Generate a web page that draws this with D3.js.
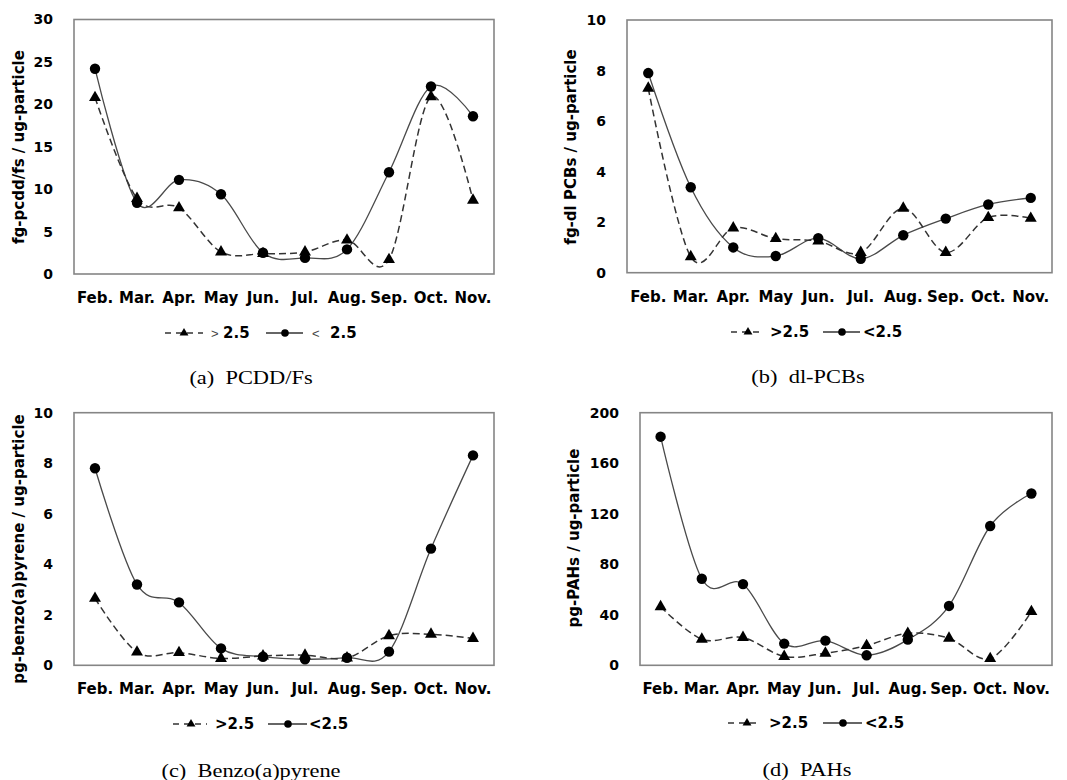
<!DOCTYPE html>
<html>
<head>
<meta charset="utf-8">
<script src="https://cdn.jsdelivr.net/npm/d3@7"></script>
<style>
  html, body { margin: 0; padding: 0; background: #fff; }
  svg { display: block; }
</style>
</head>
<body>
<svg id="chart" width="1067" height="780"></svg>
<script>
// ---------- data ----------
const months = ["Feb.", "Mar.", "Apr.", "May", "Jun.", "Jul.", "Aug.", "Sep.", "Oct.", "Nov."];

const pcddTicks = [0, 5, 10, 15, 20, 25, 30];
const pcddAbove = [20.8, 8.9, 7.8, 2.6, 2.4, 2.6, 4.0, 1.7, 20.9, 8.7];
const pcddBelow = [24.2, 8.4, 11.1, 9.4, 2.5, 1.9, 2.9, 12.0, 22.1, 18.6];

const pcbTicks = [0, 2, 4, 6, 8, 10];
const pcbAbove = [7.3, 0.63, 1.77, 1.35, 1.25, 0.8, 2.55, 0.8, 2.18, 2.15];
const pcbBelow = [7.9, 3.38, 1.0, 0.66, 1.37, 0.55, 1.48, 2.14, 2.7, 2.96];

const bapTicks = [0, 2, 4, 6, 8, 10];
const bapAbove = [2.65, 0.52, 0.5, 0.27, 0.37, 0.4, 0.29, 1.17, 1.23, 1.06];
const bapBelow = [7.8, 3.2, 2.49, 0.67, 0.34, 0.24, 0.3, 0.54, 4.62, 8.31];

const pahTicks = [0, 40, 80, 120, 160, 200];
const pahAbove = [46.4, 20.6, 22.0, 7.0, 9.6, 15.6, 25.3, 21.4, 5.3, 42.5];
const pahBelow = [181, 68.5, 64.3, 17.2, 19.5, 7.9, 20.3, 47, 110.3, 136];

const yTitles = ["fg-pcdd/fs / ug-particle", "fg-dl PCBs / ug-particle",
                 "pg-benzo(a)pyrene / ug-particle", "pg-PAHs / ug-particle"];
const captions = ["(a)\u00a0 PCDD/Fs", "(b)\u00a0 dl-PCBs", "(c)\u00a0 Benzo(a)pyrene", "(d)\u00a0 PAHs"];

// ---------- layout ----------
const panels = [
  { box: [74, 494, 19.5, 274], ymax: 30, ticks: pcddTicks, above: pcddAbove, below: pcddBelow,
    title: yTitles[0], tX: 19, tY: 147, cap: captions[0], capX: 251, capY: 377,
    leg: { y: 333, d0: 165, d1: 203, tri: 184, t1x: 211, s0: 266, s1: 303, dot: 285, t2x: 312, thin: true } },
  { box: [627, 1052, 20, 272.7], ymax: 10, ticks: pcbTicks, above: pcbAbove, below: pcbBelow,
    title: yTitles[1], tX: 571, tY: 147, cap: captions[1], capX: 808, capY: 376,
    leg: { y: 332, d0: 731, d1: 763, tri: 748, t1x: 770, s0: 823, s1: 860, dot: 842, t2x: 863, thin: false } },
  { box: [74, 494, 412.7, 665.3], ymax: 10, ticks: bapTicks, above: bapAbove, below: bapBelow,
    title: yTitles[2], tX: 19, tY: 549, cap: captions[2], capX: 251, capY: 770,
    leg: { y: 724, d0: 173, d1: 207, tri: 191, t1x: 215, s0: 268, s1: 307, dot: 288, t2x: 309, thin: false } },
  { box: [640, 1052, 412.7, 665.3], ymax: 200, ticks: pahTicks, above: pahAbove, below: pahBelow,
    title: yTitles[3], tX: 574, tY: 538, cap: captions[3], capX: 807, capY: 769,
    leg: { y: 723, d0: 728, d1: 761, tri: 747, t1x: 769, s0: 823, s1: 862, dot: 843, t2x: 865, thin: false } }
];

const svg = d3.select("#chart");
const boldFont = "'DejaVu Sans', sans-serif";
const triPath = s => d3.symbol().type(d3.symbolTriangle).size(s)();

panels.forEach(p => {
  const [x0, x1, y0, y1] = p.box;
  const g = svg.append("g");
  const x = d3.scaleBand().domain(months).range([x0, x1]);
  const y = d3.scaleLinear().domain([0, p.ymax]).range([y1, y0]);
  const cx = m => x(m) + x.bandwidth() / 2;

  // frame
  g.append("rect").attr("x", x0).attr("y", y0).attr("width", x1 - x0).attr("height", y1 - y0)
    .attr("fill", "none").attr("stroke", "#858585").attr("stroke-width", 1.6);

  // y axis
  const ya = g.append("g").attr("transform", `translate(${x0},0)`)
    .call(d3.axisLeft(y).tickValues(p.ticks).tickSize(0).tickPadding(21).tickFormat(d3.format("d")));
  ya.select(".domain").remove();
  ya.selectAll("text").attr("font-family", boldFont).attr("font-weight", "bold")
    .attr("font-size", 14).attr("fill", "#000");

  // x axis
  const xa = g.append("g").attr("transform", `translate(0,${y1})`)
    .call(d3.axisBottom(x).tickSize(0).tickPadding(18.5));
  xa.select(".domain").remove();
  xa.selectAll("text").attr("font-family", boldFont).attr("font-weight", "bold")
    .attr("font-size", 15).attr("fill", "#000");

  // y title
  g.append("text").attr("transform", `translate(${p.tX},${p.tY}) rotate(-90)`)
    .attr("text-anchor", "middle").attr("dy", "0.35em")
    .attr("font-family", boldFont).attr("font-weight", "bold").attr("font-size", 15)
    .attr("fill", "#000").text(p.title);

  // lines
  const line = d3.line().x((d, i) => cx(months[i])).y(d => y(d)).curve(d3.curveCatmullRom.alpha(0));
  g.append("path").datum(p.below).attr("d", line).attr("fill", "none")
    .attr("stroke", "#4a4a4a").attr("stroke-width", 1.3);
  g.append("path").datum(p.above).attr("d", line).attr("fill", "none")
    .attr("stroke", "#333").attr("stroke-width", 1.5).attr("stroke-dasharray", "7,4");

  // markers
  g.selectAll(".dot").data(p.below).join("circle")
    .attr("cx", (d, i) => cx(months[i])).attr("cy", d => y(d)).attr("r", 5.2).attr("fill", "#000");
  g.selectAll(".tri").data(p.above).join("path")
    .attr("d", triPath(62))
    .attr("transform", (d, i) => `translate(${cx(months[i])},${y(d)})`).attr("fill", "#000");

  // legend
  const L = p.leg;
  const lg = g.append("g");
  lg.append("line").attr("x1", L.d0).attr("x2", L.d1).attr("y1", L.y).attr("y2", L.y)
    .attr("stroke", "#333").attr("stroke-width", 1.4).attr("stroke-dasharray", "6,5");
  lg.append("path").attr("d", triPath(34)).attr("transform", `translate(${L.tri},${L.y})`).attr("fill", "#000");
  lg.append("line").attr("x1", L.s0).attr("x2", L.s1).attr("y1", L.y).attr("y2", L.y)
    .attr("stroke", "#333").attr("stroke-width", 1.5);
  lg.append("circle").attr("cx", L.dot).attr("cy", L.y).attr("r", 3.8).attr("fill", "#000");
  const t1 = lg.append("text").attr("x", L.t1x).attr("y", L.y).attr("dy", "0.36em")
    .attr("font-family", boldFont).attr("font-size", 15).attr("fill", "#000");
  const t2 = lg.append("text").attr("x", L.t2x).attr("y", L.y).attr("dy", "0.36em")
    .attr("font-family", boldFont).attr("font-size", 15).attr("fill", "#000");
  if (L.thin) {
    t1.append("tspan").attr("font-weight", "normal").attr("font-size", 13).attr("fill", "#444")
      .attr("font-family", "'Liberation Sans', sans-serif").text(">");
    t1.append("tspan").attr("x", L.t1x + 12).attr("font-weight", "bold").text("2.5");
    t2.append("tspan").attr("font-weight", "normal").attr("font-size", 13).attr("fill", "#444")
      .attr("font-family", "'Liberation Sans', sans-serif").text("<");
    t2.append("tspan").attr("x", L.t2x + 18).attr("font-weight", "bold").text("2.5");
  } else {
    t1.attr("font-weight", "bold").text(">2.5");
    t2.attr("font-weight", "bold").text("<2.5");
  }

  // caption
  g.append("text").attr("transform", `translate(${p.capX},${p.capY}) scale(1.18,1)`)
    .attr("text-anchor", "middle").attr("dy", "0.35em")
    .attr("font-family", "'Liberation Serif', 'Times New Roman', serif").attr("font-size", 19)
    .attr("fill", "#000").text(p.cap);
});
</script>
</body>
</html>
